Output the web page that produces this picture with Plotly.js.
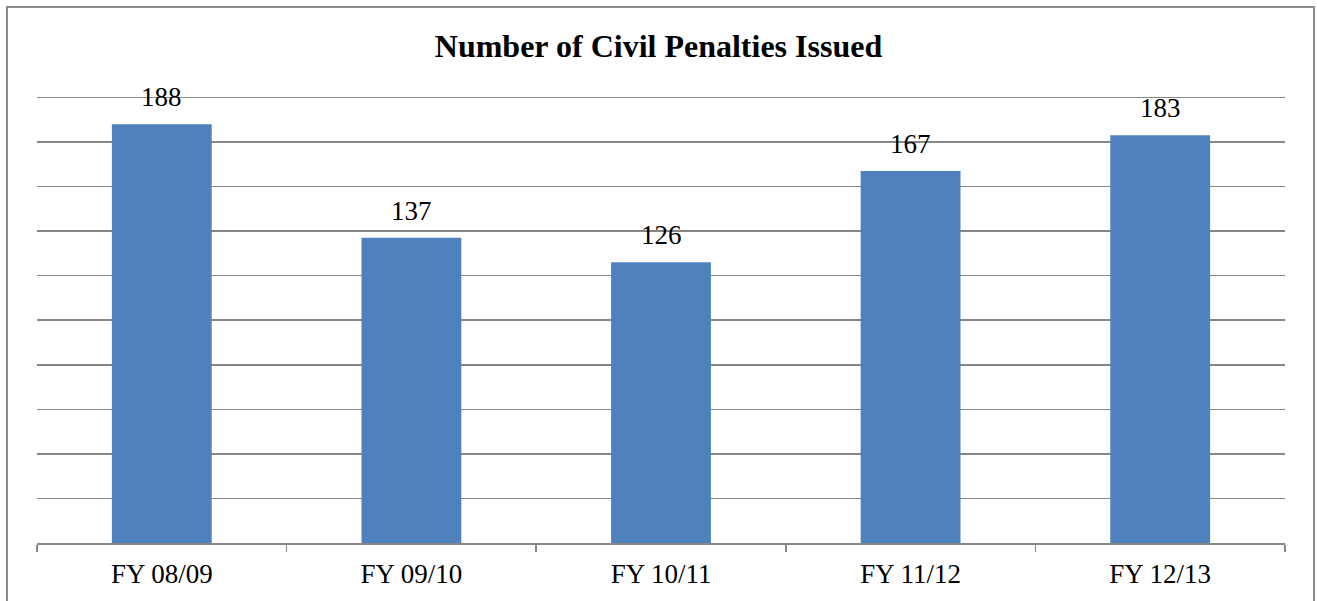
<!DOCTYPE html>
<html>
<head>
<meta charset="utf-8">
<script src="https://cdn.plot.ly/plotly-3.0.1.min.js"></script>
<style>
html,body{margin:0;padding:0;background:#fff;}
#chart{width:1317px;height:601px;}
</style>
</head>
<body>
<div id="chart"></div>
<script>
const categories = ["FY 08/09", "FY 09/10", "FY 10/11", "FY 11/12", "FY 12/13"];
const penalties = [188, 137, 126, 167, 183];
const chartTitle = "Number of Civil Penalties Issued";

const L = 37, R = 32, T = 93, B = 58, W = 1317, H = 601;
const pw = W - L - R, ph = H - T - B;
const serif = "'Liberation Serif', 'Times New Roman', serif";

const trace = {
  type: "bar",
  x: categories,
  y: penalties,
  marker: {color: "#4F81BD", line: {width: 0}},
  hoverinfo: "x+y"
};

const annotations = categories.map((c, i) => ({
  x: c, y: penalties[i], xref: "x", yref: "y",
  text: String(penalties[i]),
  showarrow: false, yanchor: "bottom", yshift: 10,
  font: {family: serif, size: 27, color: "#000"}
}));

const layout = {
  width: W, height: H,
  margin: {l: L, r: R, t: T, b: B, pad: 0},
  paper_bgcolor: "#fff", plot_bgcolor: "#fff",
  showlegend: false,
  bargap: 0.6,
  title: {
    text: "<b>" + chartTitle + "</b>",
    font: {family: serif, size: 32, color: "#000"},
    x: 0.5, xanchor: "center", y: 1 - 46 / H, yanchor: "middle", yref: "container"
  },
  xaxis: {
    type: "category",
    showline: true, linecolor: "#868686", linewidth: 1.5,
    ticks: "outside", tickson: "boundaries", ticklen: 7, tickcolor: "#868686", tickwidth: 1.5,
    ticklabelstandoff: 6,
    showgrid: false, zeroline: false,
    tickfont: {family: serif, size: 27, color: "#000"}
  },
  yaxis: {
    range: [0, 202], dtick: 20, tick0: 0,
    showticklabels: false, ticks: "",
    showgrid: true, gridcolor: "#868686", gridwidth: 1.5,
    zeroline: false, showline: false
  },
  annotations: annotations,
  shapes: [{
    type: "path", xref: "paper", yref: "paper",
    path: "M " + ((7 - L) / pw) + " -0.3" +
          " L " + ((7 - L) / pw) + " " + ((H - B - 7) / ph) +
          " L " + ((1314 - L) / pw) + " " + ((H - B - 7) / ph) +
          " L " + ((1314 - L) / pw) + " -0.3",
    line: {color: "#8c8c8c", width: 2}
  }]
};

Plotly.newPlot("chart", [trace], layout, {displayModeBar: false, staticPlot: true});
</script>
</body>
</html>
